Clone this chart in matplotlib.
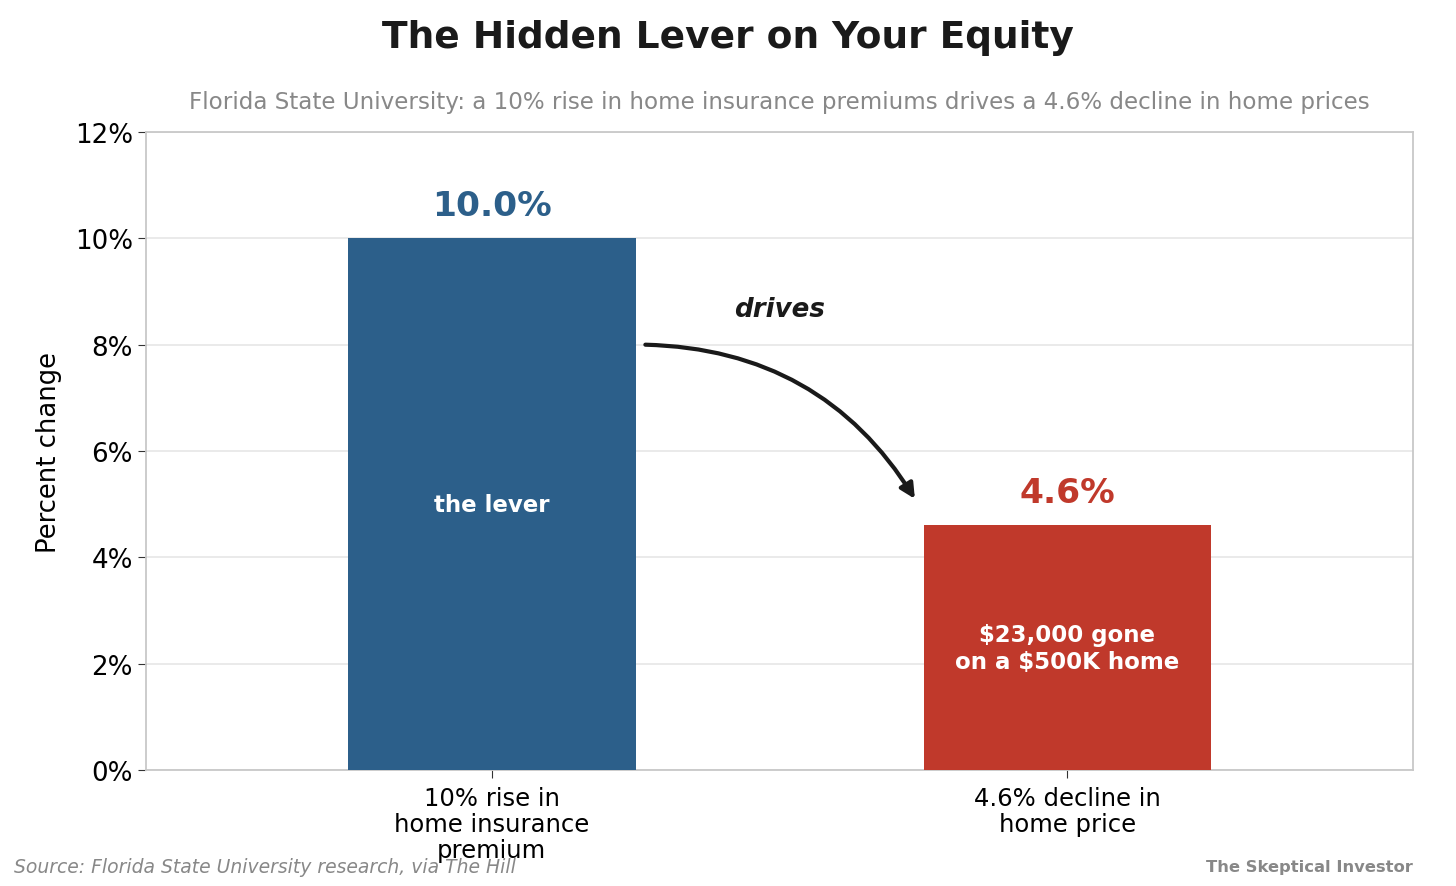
import numpy as np
import matplotlib.pyplot as plt
from matplotlib.ticker import FuncFormatter

# data
categories = ["10% rise in\nhome insurance\npremium", "4.6% decline in\nhome price"]
values = [10.0, 4.6]
value_labels = ["10.0%", "4.6%"]
inner_labels = ["the lever", "$23,000 gone\non a $500K home"]
bar_colors = ["#2c5f8a", "#c0392b"]

fig = plt.figure(figsize=(14.56, 8.87), dpi=100)
ax = fig.add_axes([0.1003, 0.1308, 0.8702, 0.7192])

x = np.arange(len(values))
ax.bar(x, values, width=0.5, color=bar_colors, zorder=3)

for xi, v, lab, inner, c in zip(x, values, value_labels, inner_labels, bar_colors):
    ax.text(xi, v + 0.3, lab, ha='center', va='bottom', fontsize=24.8,
            fontweight='bold', color=c)
    ax.text(xi, v / 2, inner, ha='center', va='center', fontsize=16.5,
            fontweight='bold', color='white', linespacing=1.2)

# arrow between bars
ax.annotate("", xy=(0.735, 5.1), xytext=(0.267, 8.0),
            arrowprops=dict(arrowstyle='-|>', color='#1a1a1a', lw=3,
                            mutation_scale=22,
                            connectionstyle='arc3,rad=-0.27',
                            shrinkA=0, shrinkB=0))
ax.text(0.5, 8.67, "drives", ha='center', va='center', fontsize=18.8,
        fontweight='bold', fontstyle='italic', color='#1a1a1a')

ax.set_xlim(-0.6, 1.6)
ax.set_ylim(0, 12)
ax.set_xticks(x)
ax.set_xticklabels(categories, fontsize=17.5, linespacing=1.1)
ax.set_yticks(np.arange(0, 13, 2))
ax.yaxis.set_major_formatter(FuncFormatter(lambda v, p: f"{v:.0f}%"))
ax.tick_params(axis='y', labelsize=18.8, length=6, color='#333333')
ax.tick_params(axis='x', length=6, color='#333333', pad=5.5)
ax.set_ylabel("Percent change", fontsize=18.6, labelpad=9)

ax.grid(axis='y', color='#e6e6e6', lw=1.2, zorder=0)
ax.set_axisbelow(True)
for s in ax.spines.values():
    s.set_color('#c8c8c8')
    s.set_linewidth(1.3)

fig.text(0.5, 0.957, "The Hidden Lever on Your Equity", ha='center', va='center',
         fontsize=27, fontweight='bold', color='#1a1a1a')
fig.text(0.5354, 0.884, "Florida State University: a 10% rise in home insurance premiums drives a 4.6% decline in home prices",
         ha='center', va='center', fontsize=16.6, color='#888888')
fig.text(0.0096, 0.022, "Source: Florida State University research, via The Hill",
         ha='left', va='center', fontsize=13.5, fontstyle='italic', color='#888888')
fig.text(0.9705, 0.022, "The Skeptical Investor", ha='right', va='center',
         fontsize=11.8, fontweight='bold', color='#888888')

fig.savefig("out.png", dpi=100)
